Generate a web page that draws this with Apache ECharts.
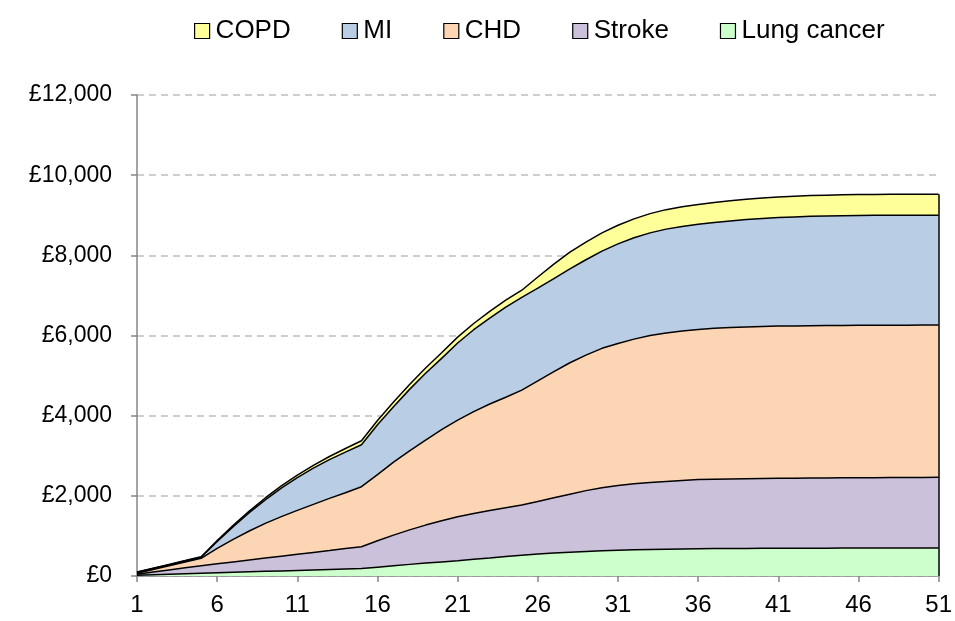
<!DOCTYPE html>
<html>
<head>
<meta charset="utf-8">
<script src="https://cdn.jsdelivr.net/npm/echarts@6/dist/echarts.min.js"></script>
<style>
  html, body { margin: 0; padding: 0; background: #fff; }
  #chart { width: 955px; height: 621px; }
</style>
</head>
<body>
<div id="chart"></div>
<script>
// years 1..51
var years = [];
for (var i = 1; i <= 51; i++) years.push(String(i));

// cost per disease (stacked bottom -> top)
var lungCancer = [20, 32, 44, 56, 68, 80, 92, 104, 116, 127, 139, 150, 162, 173, 185,
  220, 255, 290, 322, 352, 380, 418, 452, 488, 520, 548, 572, 594, 614, 630,
  643, 654, 663, 670, 676, 680, 684, 687, 689, 691, 692, 693, 694, 695, 696,
  696, 697, 697, 698, 698, 698];
var stroke = [25, 66, 107, 148, 189, 224, 260, 295, 331, 367, 403, 439, 474, 511, 546,
  660, 765, 860, 948, 1028, 1100, 1142, 1183, 1217, 1251, 1312, 1378, 1446, 1516, 1570,
  1617, 1646, 1672, 1690, 1709, 1725, 1731, 1736, 1740, 1742, 1744, 1747, 1749, 1751, 1753,
  1756, 1757, 1759, 1760, 1762, 1763];
var chd = [25, 65, 104, 144, 184, 386, 562, 723, 866, 986, 1096, 1199, 1301, 1394, 1497,
  1650, 1820, 1970, 2122, 2270, 2410, 2540, 2655, 2755, 2867, 3010, 3150, 3280, 3380, 3480,
  3540, 3610, 3665, 3700, 3725, 3745, 3765, 3777, 3786, 3792, 3798, 3800, 3802, 3803, 3803,
  3802, 3802, 3801, 3800, 3799, 3798];
var mi = [25, 25, 25, 25, 26, 170, 318, 457, 588, 712, 816, 902, 965, 1014, 1047,
  1242, 1384, 1536, 1666, 1780, 1922, 2044, 2146, 2248, 2312, 2310, 2320, 2340, 2380, 2425,
  2485, 2527, 2560, 2594, 2609, 2625, 2641, 2657, 2678, 2694, 2707, 2719, 2727, 2732, 2738,
  2740, 2742, 2743, 2743, 2743, 2744];
var copd = [5, 7, 10, 12, 15, 22, 30, 38, 46, 55, 63, 72, 80, 90, 100,
  108, 116, 124, 132, 140, 148, 156, 164, 172, 180, 280, 360, 420, 440, 455,
  465, 473, 480, 486, 491, 495, 499, 503, 507, 511, 514, 516, 518, 519, 520,
  521, 522, 522, 523, 523, 523];

var yTicks = [0, 2000, 4000, 6000, 8000, 10000, 12000];

var last = years.length - 1;
var lastTotal = lungCancer[last] + stroke[last] + chd[last] + mi[last] + copd[last];

function area(name, data, fill) {
  return {
    name: name,
    type: 'line',
    stack: 'cost',
    data: data,
    symbol: 'none',
    smooth: false,
    lineStyle: { color: '#000', width: 1.5 },
    itemStyle: { color: fill, borderColor: '#000', borderWidth: 1.2 },
    areaStyle: { color: fill, opacity: 1 },
    emphasis: { disabled: true }
  };
}

var chart = echarts.init(document.getElementById('chart'));
var font = 'Liberation Sans, Arial, sans-serif';
var series = [
  area('Lung cancer', lungCancer, '#CCFFCC'),
  area('Stroke', stroke, '#CCC1DA'),
  area('CHD', chd, '#FCD5B5'),
  area('MI', mi, '#B9CDE5'),
  area('COPD', copd, '#FFFF99')
];
// closing edge at the right end of the stack
series[4].markLine = {
  silent: true,
  symbol: 'none',
  label: { show: false },
  lineStyle: { color: '#000', width: 1.5, type: 'solid' },
  data: [[{ coord: [years[last], 0] }, { coord: [years[last], lastTotal] }]]
};

chart.setOption({
  animation: false,
  backgroundColor: '#fff',
  textStyle: { fontFamily: font },
  legend: {
    data: ['COPD', 'MI', 'CHD', 'Stroke', 'Lung cancer'],
    top: 13,
    left: 189,
    itemGap: 51,
    itemWidth: 15,
    itemHeight: 15,
    icon: 'rect',
    itemStyle: { borderColor: '#000', borderWidth: 1.2 },
    textStyle: { fontSize: 26, color: '#000', fontFamily: font, padding: [0, 0, 0, 1] }
  },
  grid: { left: 137, right: 15, top: 95, bottom: 45, containLabel: false },
  xAxis: {
    type: 'category',
    data: years,
    boundaryGap: false,
    axisLine: { lineStyle: { color: '#868686', width: 1.5 } },
    axisTick: { show: true, interval: 4, length: 6, lineStyle: { color: '#868686', width: 1.5 } },
    axisLabel: { interval: 4, margin: 17, fontSize: 24, color: '#000', fontFamily: font },
    splitLine: { show: false }
  },
  yAxis: {
    type: 'value',
    min: yTicks[0],
    max: yTicks[yTicks.length - 1],
    interval: 2000,
    axisLine: { show: true, lineStyle: { color: '#868686', width: 1.5 } },
    axisTick: { show: true, length: 6, lineStyle: { color: '#868686', width: 1.5 } },
    axisLabel: {
      margin: 25,
      fontSize: 23,
      color: '#000',
      fontFamily: font,
      formatter: function (v) { return '£' + v.toLocaleString('en-GB'); }
    },
    splitLine: { show: true, lineStyle: { color: '#BFBFBF', width: 1.5, type: [7, 5] } }
  },
  series: series
});
</script>
</body>
</html>
